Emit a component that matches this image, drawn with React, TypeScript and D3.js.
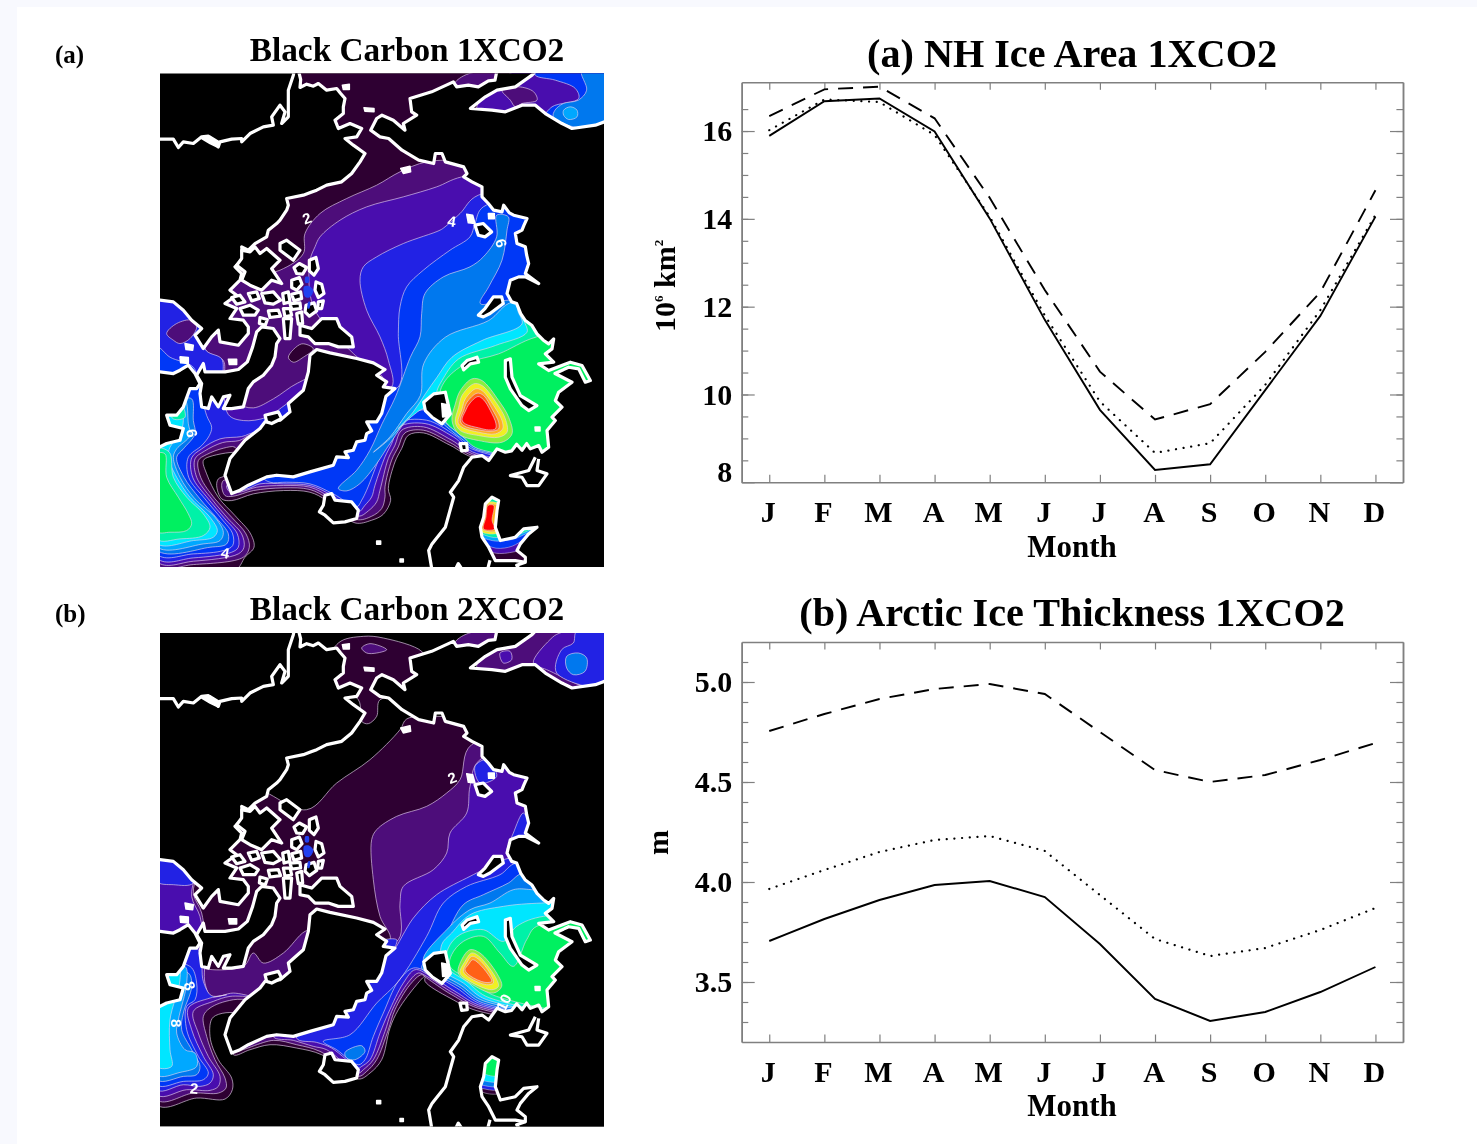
import React, { useEffect, useRef } from 'react';
import * as d3 from 'd3';

type Pt = [number, number];

const months = ['J', 'F', 'M', 'A', 'M', 'J', 'J', 'A', 'S', 'O', 'N', 'D'];

// (a) NH ice area, 10^6 km2
const areaSolid = [15.89, 16.68, 16.74, 15.99, 14.01, 11.7, 9.65, 8.28, 8.41, 10.1, 11.79, 14.05];
const areaDotted = [16.02, 16.72, 16.66, 15.91, 14.05, 11.8, 9.84, 8.67, 8.89, 10.22, 11.92, 14.09];
const areaDashed = [16.34, 16.95, 17.01, 16.29, 14.48, 12.38, 10.52, 9.43, 9.78, 10.97, 12.33, 14.65];

// (b) Arctic ice thickness, m
const thickSolid = [3.705, 3.815, 3.91, 3.985, 4.005, 3.925, 3.69, 3.415, 3.305, 3.35, 3.45, 3.575];
const thickDotted = [3.965, 4.06, 4.15, 4.21, 4.23, 4.155, 3.935, 3.715, 3.63, 3.67, 3.76, 3.87];
const thickDashed = [4.755, 4.84, 4.915, 4.965, 4.99, 4.94, 4.75, 4.56, 4.5, 4.535, 4.61, 4.695];

const levelColors = ['#2e0033', '#4e0a7a', '#4a10ae', '#2222e4', '#0038f6', '#0078ee', '#00a8ff', '#00e6ff', '#00f2a8', '#00f060', '#88f040', '#f0f020', '#ffb020', '#ff6018', '#ff0000'];

// Map grid is in units of 1/3 px. Land and coast
const landNorthAmerica: Pt[] = [[445,30],[452,58],[450,82],[470,72],[490,78],[505,70],[530,90],[560,85],[572,100],[585,115],[580,140],[580,160],[555,180],[565,205],[600,190],[635,205],[620,230],[585,235],[610,255],[645,280],[630,305],[605,340],[575,365],[530,375],[500,390],[460,405],[410,415],[415,435],[410,450],[390,480],[380,490],[355,510],[350,530],[315,550],[295,570],[275,560],[280,595],[255,620],[275,640],[270,660],[255,675],[240,690],[260,705],[225,730],[260,745],[240,775],[280,780],[295,800],[295,820],[265,855],[210,845],[205,810],[185,830],[160,865],[135,825],[155,805],[125,780],[100,750],[70,725],[30,720],[20,720],[20,237],[30,237],[70,237],[85,262],[100,245],[130,250],[155,230],[175,228],[205,260],[210,245],[245,237],[275,235],[275,245],[300,220],[340,200],[370,195],[365,170],[390,135],[405,155],[395,190],[415,170],[415,120],[415,90],[430,45],[433,30]];
const landEurasia: Pt[] = [[1041,30],[1035,60],[1015,62],[985,80],[955,75],[920,80],[910,65],[845,95],[780,115],[785,155],[800,165],[760,190],[765,210],[730,180],[696,165],[680,175],[662,210],[690,230],[716,235],[756,270],[806,300],[851,310],[856,280],[876,280],[886,305],[941,320],[951,340],[941,350],[966,365],[996,380],[996,410],[1015,430],[1031,450],[1056,455],[1061,435],[1078,458],[1091,465],[1131,475],[1122,495],[1116,510],[1096,520],[1101,550],[1126,560],[1130,585],[1136,610],[1126,640],[1166,670],[1126,650],[1106,650],[1081,660],[1071,700],[1085,725],[1100,730],[1112,760],[1126,781],[1145,795],[1161,821],[1180,840],[1196,851],[1211,836],[1206,866],[1186,881],[1211,906],[1166,911],[1196,931],[1261,906],[1296,916],[1321,961],[1306,966],[1286,926],[1256,921],[1215,940],[1266,966],[1226,996],[1216,1021],[1236,1041],[1206,1071],[1216,1081],[1191,1111],[1196,1161],[1176,1176],[1166,1156],[1141,1166],[1130,1150],[1116,1170],[1100,1152],[1085,1172],[1066,1176],[1041,1166],[1016,1201],[996,1186],[966,1191],[941,1221],[926,1261],[901,1296],[911,1311],[886,1401],[846,1451],[836,1471],[846,1530],[1400,1530],[1400,180],[1376,180],[1336,195],[1266,205],[1236,190],[1186,160],[1156,135],[1116,135],[1066,155],[1026,150],[961,145],[1006,110],[1041,90],[1096,80],[1146,45],[1160,30]];
const landGreenland: Pt[] = [[500,868],[540,878],[620,895],[670,908],[705,928],[680,945],[710,965],[700,980],[735,985],[708,1008],[695,1060],[680,1085],[650,1085],[665,1112],[650,1120],[645,1140],[620,1145],[610,1170],[585,1175],[595,1192],[560,1190],[550,1215],[480,1235],[430,1250],[380,1245],[350,1250],[295,1275],[270,1290],[245,1300],[225,1245],[240,1195],[285,1140],[330,1105],[345,1085],[390,1080],[420,1055],[415,1030],[460,990],[475,935],[480,885]];
const landBaffin: Pt[] = [[160,910],[165,935],[225,935],[265,928],[292,905],[308,860],[320,815],[335,800],[370,805],[390,835],[380,850],[375,890],[365,915],[340,945],[310,965],[295,985],[280,1040],[245,1045],[220,1045],[240,1005],[220,1010],[205,1040],[185,1010],[175,1045],[155,1040],[150,1000],[155,970],[140,945]];
const landEllesmere: Pt[] = [[450,795],[485,805],[515,775],[560,775],[570,800],[605,830],[610,860],[565,860],[535,850],[495,850],[475,830],[450,825]];
const landLabrador: Pt[] = [[30,935],[70,940],[90,930],[115,915],[135,940],[150,970],[140,985],[120,985],[100,1040],[80,1065],[50,1065],[60,1095],[100,1105],[90,1140],[50,1150],[30,1160],[20,1162],[20,935]];
const landIceland: Pt[] = [[525,1305],[545,1300],[555,1320],[605,1325],[625,1350],[620,1375],[585,1385],[550,1388],[525,1365],[508,1355],[520,1335]];
const landSvalbard: Pt[] = [[821,1026],[851,1001],[886,996],[896,1041],[901,1061],[876,1091],[846,1071],[826,1051]];
const landCrescent: Pt[] = [[1066,901],[1081,896],[1086,951],[1111,1006],[1161,1036],[1136,1051],[1116,1036],[1081,986],[1066,951]];
const landNovaya: Pt[] = [[985,765],[1005,745],[1030,710],[1055,710],[1060,730],[1040,745],[1020,760],[1000,770]];
const landSmallIslands: Pt[][] = [
  [[275,570],[300,575],[315,560],[330,580],[350,565],[390,600],[365,625],[395,670],[365,660],[335,690],[300,675],[275,660],[285,635],[260,615],[275,595]],
  [[390,550],[410,540],[450,570],[430,600],[410,585],[390,570]],
  [[335,700],[370,695],[392,720],[370,732],[345,728]],
  [[270,745],[300,735],[325,750],[315,765],[280,765]],
  [[355,752],[385,750],[392,768],[360,772]],
  [[245,712],[270,705],[285,725],[260,732]],
  [[400,775],[425,775],[420,835],[405,835]],
  [[295,700],[320,695],[328,715],[305,722]],
  [[398,700],[415,695],[420,725],[402,730]],
  [[400,745],[420,745],[425,765],[405,770]],
  [[330,772],[352,778],[346,795],[328,790]],
  [[432,622],[448,610],[470,622],[458,642],[440,640]],
  [[478,600],[498,592],[505,625],[492,645],[478,632]],
  [[425,660],[448,652],[456,672],[440,690],[425,682]],
  [[425,702],[452,695],[455,715],[432,722]],
  [[498,665],[515,672],[522,700],[505,712],[495,690]],
  [[420,730],[450,728],[452,745],[425,748]],
  [[468,735],[492,728],[500,752],[478,768],[465,755]],
  [[505,725],[520,722],[515,745],[503,745]],
  [[440,760],[455,755],[458,790],[445,792]],
  [[975,495],[1000,490],[1025,515],[1005,530],[985,525]],
  [[951,901],[981,891],[986,906],[961,911],[941,929],[936,916]],
  [[345,1065],[385,1055],[395,1075],[365,1090],[350,1085]],
  [[930,1150],[950,1150],[952,1170],[935,1172]],
];
const whiteBlobs: Pt[][] = [
  [[155,235],[180,228],[208,245],[205,262],[180,250]],
  [[642,143],[672,145],[672,155],[645,153]],
  [[577,75],[598,72],[598,88],[580,88]],
  [[752,325],[780,318],[782,335],[760,340]],
  [[950,462],[968,465],[975,490],[955,488]],
  [[1015,460],[1033,460],[1033,476],[1016,476]],
  [[105,850],[130,855],[128,870],[108,868]],
  [[90,890],[115,892],[115,910],[92,908]],
  [[235,897],[260,897],[260,913],[238,913]],
  [[875,1030],[898,1035],[898,1068],[878,1070]],
  [[1155,1100],[1170,1100],[1170,1112],[1156,1112]],
  [[680,1442],[692,1442],[692,1452],[680,1452]],
  [[750,1496],[760,1496],[760,1505],[750,1505]],
];
const archipelagoSea: Pt[][] = [
  [[462,680],[478,678],[490,692],[478,712],[465,710]],
  [[466,650],[476,650],[476,668],[466,668]],
  [[475,725],[480,725],[478,745],[473,745]],
];
const coastLoopBlack: Pt[] = [[1166,1196],[1161,1231],[1191,1241],[1166,1276],[1131,1276],[1116,1251],[1081,1246],[1136,1231],[1156,1191]];
const coastBottomA: Pt[] = [[1020,1500],[1012,1530]];
const coastBottomB: Pt[] = [[1126,1506],[1100,1515],[1110,1530]];
const coastBottomC: Pt[] = [[915,1530],[925,1510],[938,1530]];
const smallSea: Pt[] = [[1006,1331],[1026,1311],[1046,1321],[1041,1351],[1036,1401],[1051,1441],[1096,1431],[1121,1406],[1161,1401],[1136,1421],[1111,1451],[1101,1471],[1126,1491],[1126,1506],[1096,1501],[1066,1501],[1036,1501],[1016,1461],[996,1431],[991,1401],[1001,1371]];

const landMasses: Pt[][] = [landNorthAmerica, landEurasia, landGreenland, landBaffin, landEllesmere, landLabrador, landIceland, landSvalbard, landCrescent, landNovaya, ...landSmallIslands];

// Contour regions, black carbon 1XCO2: [level index, outline]
const bc1Arctic: [number, Pt[]][] = [
  [0, [[20,700],[200,500],[430,130],[437,60],[440,20],[1400,20],[1400,1200],[980,1195],[900,1155],[820,1118],[775,1125],[755,1165],[735,1205],[715,1285],[722,1320],[700,1362],[665,1380],[615,1388],[530,1321],[480,1296],[400,1291],[310,1301],[245,1321],[215,1316],[200,1276],[205,1256],[225,1246],[260,1200],[265,1179],[180,1189],[160,1201],[170,1241],[205,1311],[255,1366],[302,1421],[312,1461],[285,1491],[255,1530],[20,1530]]],
  [1, [[20,700],[240,690],[260,660],[390,630],[460,580],[465,520],[510,460],[590,415],[680,375],[750,335],[830,305],[960,300],[1400,300],[1400,1190],[980,1190],[900,1147],[820,1110],[765,1118],[745,1160],[725,1200],[705,1280],[705,1310],[695,1345],[665,1368],[620,1378],[535,1316],[480,1288],[400,1283],[310,1291],[250,1308],[225,1306],[215,1276],[220,1261],[250,1251],[265,1190],[255,1161],[220,1164],[170,1183],[145,1201],[152,1251],[195,1316],[245,1371],[288,1421],[298,1461],[280,1491],[130,1513],[20,1513]]],
  [0, [[415,891],[455,851],[490,866],[460,891],[430,906]]],
  [2, [[480,600],[495,560],[510,530],[570,480],[650,440],[760,410],[860,380],[935,350],[1400,300],[1400,1185],[980,1185],[905,1140],[820,1100],[755,1110],[735,1155],[715,1195],[690,1290],[680,1325],[655,1352],[625,1368],[540,1311],[480,1281],[400,1276],[320,1281],[270,1296],[240,1296],[230,1276],[300,1260],[620,1000],[700,960],[610,880],[500,760],[480,700]]],
  [2, [[20,681],[200,681],[165,866],[220,901],[225,951],[245,1021],[260,1031],[310,1043],[370,1016],[442,969],[500,951],[510,1111],[300,1125],[268,1141],[218,1147],[163,1173],[135,1196],[140,1251],[185,1316],[235,1376],[275,1421],[282,1461],[265,1481],[130,1503],[20,1503]]],
  [3, [[630,660],[640,620],[680,590],[760,550],[870,510],[885,500],[930,460],[985,405],[1400,400],[1400,1180],[980,1180],[910,1130],[825,1090],[748,1100],[725,1150],[705,1190],[675,1275],[665,1310],[645,1335],[625,1355],[545,1305],[480,1276],[400,1271],[330,1271],[295,1285],[265,1290],[300,1240],[620,1000],[725,980],[715,900],[690,830],[650,750]]],
  [3, [[20,681],[200,681],[165,866],[215,896],[220,946],[235,1063],[280,1081],[350,1071],[410,1031],[500,971],[510,1121],[320,1115],[275,1129],[210,1136],[155,1166],[125,1193],[128,1251],[175,1316],[225,1376],[262,1421],[265,1461],[245,1476],[130,1493],[20,1493]]],
  [1, [[50,820],[80,790],[125,780],[140,800],[120,835],[90,850],[70,840]]],
  [4, [[750,740],[770,680],[820,630],[900,570],[960,530],[975,490],[1000,440],[1400,400],[1400,1175],[975,1170],[915,1125],[830,1080],[740,1090],[715,1145],[690,1190],[650,1290],[635,1320],[620,1340],[550,1301],[480,1271],[410,1266],[360,1266],[340,1250],[620,1000],[745,980],[745,820]]],
  [4, [[20,861],[60,891],[130,921],[145,971],[170,1066],[185,1101],[178,1126],[155,1156],[115,1191],[116,1251],[165,1316],[215,1376],[248,1421],[248,1456],[220,1471],[130,1481],[20,1481]]],
  [5, [[815,760],[825,700],[880,650],[960,620],[1000,590],[1040,530],[1040,465],[1075,470],[1071,510],[1056,600],[1016,680],[991,730],[1090,720],[1400,800],[1400,1170],[985,1170],[940,1140],[890,1100],[830,1050],[790,1060],[720,1150],[680,1210],[630,1270],[590,1292],[565,1285],[620,1230],[660,1170],[696,1091],[736,1011],[781,891],[810,830]]],
  [5, [[125,1016],[130,1081],[135,1121],[100,1166],[80,1191],[102,1251],[150,1316],[202,1376],[235,1421],[230,1451],[180,1461],[20,1469],[20,1141],[90,1021]]],
  [6, [[1090,725],[1016,781],[886,831],[821,911],[811,1006],[770,1060],[720,1130],[670,1176],[720,1135],[780,1070],[820,1040],[895,1095],[945,1135],[990,1165],[1400,1165],[1400,800]]],
  [6, [[105,1021],[115,1091],[120,1126],[80,1166],[70,1191],[90,1251],[135,1316],[195,1371],[220,1416],[210,1441],[160,1451],[20,1459],[20,1141]]],
  [7, [[1105,745],[1116,791],[996,841],[906,891],[861,951],[826,1001],[790,1055],[745,1105],[790,1065],[825,1045],[900,1090],[950,1130],[995,1160],[1400,1160],[1400,800]]],
  [7, [[90,1031],[100,1081],[90,1121],[60,1161],[55,1191],[80,1251],[120,1311],[180,1371],[202,1411],[190,1431],[130,1441],[20,1449],[20,1141]]],
  [8, [[1125,775],[1131,816],[1036,856],[926,896],[876,961],[860,1000],[880,1060],[905,1090],[955,1125],[1000,1155],[1400,1155],[1400,800]]],
  [8, [[20,1166],[58,1176],[70,1251],[110,1311],[160,1361],[180,1401],[160,1426],[90,1436],[20,1436]]],
  [8, [[55,1036],[90,1026],[105,1071],[70,1076]]],
  [9, [[1160,830],[1046,881],[946,911],[886,961],[871,1001],[896,1021],[886,1081],[936,1126],[986,1166],[1400,1160],[1400,800]]],
  [9, [[20,1181],[45,1181],[50,1251],[85,1311],[115,1361],[125,1391],[110,1411],[60,1416],[20,1413]]],
  [10, [[931,991],[966,956],[996,961],[1046,1021],[1076,1071],[1086,1121],[1056,1146],[986,1141],[926,1121],[906,1081],[916,1031]]],
  [11, [[936,1006],[971,971],[996,976],[1041,1031],[1066,1076],[1071,1116],[1046,1131],[986,1126],[931,1111],[916,1086],[926,1041]]],
  [12, [[946,1016],[976,986],[996,991],[1031,1036],[1056,1081],[1058,1106],[1036,1121],[986,1116],[936,1101],[924,1086],[936,1046]]],
  [13, [[951,1026],[981,999],[1001,1006],[1026,1046],[1046,1086],[1046,1106],[1026,1113],[986,1109],[941,1096],[931,1081],[941,1051]]],
  [14, [[958,1031],[984,1009],[1001,1019],[1021,1051],[1038,1091],[1036,1106],[1016,1109],[986,1103],[946,1091],[936,1079],[946,1053]]],
  // top right sea
  [2, [[980,150],[1040,70],[1130,20],[1400,20],[1400,230],[1100,230]]],
  [1, [[1056,90],[1106,80],[1151,95],[1161,120],[1116,130],[1096,140],[1081,120]]],
  [4, [[1156,45],[1216,60],[1276,85],[1286,115],[1206,140],[1186,170],[1256,210],[1396,200],[1396,20],[1156,20]]],
  [5, [[1210,170],[1215,150],[1240,130],[1285,120],[1310,90],[1295,30],[1400,30],[1400,200],[1270,200]]],
  [6, [[1241,150],[1261,140],[1281,150],[1281,170],[1256,178],[1241,165]]],
  [1, [[915,70],[945,45],[1045,30],[1030,60],[960,80]]],
];
const bc1SmallSea: [number, Pt[]][] = [
  [0, [[980,1300],[1180,1300],[1180,1520],[980,1520]]],
  [2, [[976,1301],[1176,1381],[1126,1461],[1086,1476],[1026,1476],[976,1431]]],
  [4, [[976,1301],[1176,1381],[1116,1441],[1076,1461],[1026,1461],[981,1421]]],
  [6, [[976,1301],[1176,1381],[1106,1431],[1066,1441],[1026,1441],[986,1421]]],
  [8, [[976,1301],[1176,1381],[1096,1426],[1051,1431],[1026,1431],[986,1411]]],
  [11, [[996,1331],[1046,1331],[1041,1381],[1046,1416],[1016,1421],[991,1411],[996,1371]]],
  [12, [[1003,1336],[1044,1336],[1038,1381],[1042,1411],[1014,1414],[996,1406],[1003,1371]]],
  [14, [[1014,1336],[1031,1336],[1026,1381],[1034,1406],[1001,1406],[1008,1371]]],
];

// Contour regions, black carbon 2XCO2
const bc2Arctic: [number, Pt[]][] = [
  [0, [[20,500],[300,500],[470,570],[560,490],[660,420],[750,330],[770,298],[860,290],[1000,300],[1400,300],[1400,1190],[1000,1178],[900,1135],[825,1085],[825,1070],[800,1095],[745,1170],[720,1225],[695,1320],[660,1360],[625,1378],[515,1305],[440,1285],[360,1275],[300,1290],[250,1305],[265,1185],[190,1192],[180,1250],[205,1320],[245,1375],[247,1410],[225,1438],[140,1435],[20,1455]]],
  [0, [[565,70],[640,50],[700,55],[815,95],[830,130],[800,230],[690,240],[680,290],[655,312],[635,305],[625,240],[520,180]]],
  [1, [[635,85],[660,72],[710,90],[680,100],[650,100]]],
  [1, [[915,70],[945,45],[1045,30],[1030,60],[960,80]]],
  [1, [[665,660],[680,630],[740,590],[830,560],[890,520],[930,480],[965,375],[1400,370],[1400,1186],[1000,1170],[905,1125],[830,1075],[815,1065],[780,1095],[735,1170],[715,1230],[680,1320],[650,1355],[625,1370],[510,1295],[440,1275],[370,1262],[260,1292],[300,1240],[600,1000],[720,960],[690,890],[670,780]]],
  [1, [[280,1040],[310,1000],[340,1030],[400,1000],[465,935],[500,930],[500,1140],[250,1140],[180,1165],[160,1190],[170,1250],[195,1320],[225,1375],[228,1405],[205,1420],[130,1420],[20,1440],[20,700],[150,700],[130,820],[155,880],[165,1000],[150,1040]]],
  [2, [[750,850],[760,800],[850,750],[890,700],[900,640],[950,580],[960,500],[990,420],[1400,370],[1400,1180],[1000,1165],[910,1120],[830,1070],[805,1060],[770,1095],[725,1175],[705,1235],[670,1320],[640,1350],[625,1360],[530,1290],[490,1280],[430,1262],[370,1250],[600,1000],[745,960]]],
  [2, [[20,700],[140,700],[125,830],[150,890],[165,1000],[165,1090],[185,1130],[250,1120],[300,1130],[240,1130],[190,1145],[130,1175],[145,1240],[175,1310],[210,1370],[205,1400],[180,1412],[110,1410],[20,1425]]],
  [3, [[735,985],[790,895],[860,825],[960,770],[1000,750],[1060,720],[1400,700],[1400,1175],[1000,1160],[915,1115],[835,1065],[795,1050],[760,1090],[715,1180],[690,1240],[660,1320],[635,1340],[625,1345],[545,1285],[500,1268],[440,1255],[600,1000],[740,960]]],
  [3, [[1090,640],[1120,580],[1140,640],[1070,700]]],
  [3, [[975,440],[1010,420],[1040,470],[990,490]]],
  [3, [[20,700],[130,700],[130,790],[70,795],[20,785]]],
  [3, [[110,960],[150,1000],[160,1085],[185,1128],[230,1125],[180,1135],[115,1165],[125,1230],[160,1310],[190,1365],[180,1390],[150,1400],[100,1395],[20,1410],[20,1000]]],
  [4, [[745,1085],[830,950],[880,850],[950,800],[1050,765],[1100,730],[1400,800],[1400,1170],[1000,1155],[920,1105],[840,1060],[790,1045],[745,1085],[700,1180],[670,1250],[645,1320],[625,1335],[560,1290],[520,1265],[600,1245],[680,1150]]],
  [4, [[120,1040],[140,1090],[135,1140],[110,1160],[110,1230],[145,1310],[175,1360],[160,1380],[100,1385],[20,1395],[20,1040]]],
  [5, [[815,1045],[880,960],[940,855],[1000,825],[1075,790],[1120,760],[1400,800],[1400,1165],[1000,1150],[925,1100],[845,1060]]],
  [5, [[585,1298],[635,1278],[645,1295],[615,1320],[590,1315]]],
  [5, [[115,1060],[125,1100],[100,1180],[95,1230],[125,1290],[150,1340],[140,1365],[100,1370],[20,1380],[20,1060]]],
  [6, [[820,1020],[890,930],[960,870],[1020,850],[1090,810],[1145,810],[1400,850],[1400,1160],[1005,1145],[930,1095],[850,1050]]],
  [6, [[105,1040],[110,1090],[85,1200],[80,1240],[105,1290],[135,1300],[140,1340],[90,1358],[20,1365],[20,1040]]],
  [7, [[875,975],[905,940],[960,885],[1060,860],[1175,850],[1400,850],[1400,1160],[1010,1140],[940,1090],[880,1050]]],
  [7, [[85,1030],[90,1080],[60,1200],[60,1290],[65,1340],[20,1340],[20,1040]]],
  [8, [[895,985],[930,945],[1000,930],[1060,965],[1100,920],[1180,890],[1400,900],[1400,1160],[1020,1135],[950,1085],[890,1040]]],
  [9, [[905,1005],[940,965],[1000,950],[1050,1000],[1090,1040],[1130,960],[1160,920],[1400,920],[1400,1160],[1040,1130],[960,1080],[900,1040]]],
  [10, [[935,1020],[960,990],[990,1000],[1040,1060],[1055,1100],[1030,1120],[960,1090],[925,1060]]],
  [11, [[945,1025],[965,1000],[985,1008],[1035,1070],[1045,1100],[1025,1110],[960,1085],[930,1060]]],
  [12, [[950,1030],[965,1010],[985,1018],[1020,1060],[1030,1090],[1010,1095],[960,1075],[940,1055]]],
  [13, [[955,1035],[968,1020],[985,1030],[1015,1065],[1025,1085],[1005,1088],[960,1068],[945,1050]]],
  // top right sea
  [1, [[980,140],[1060,70],[1140,30],[1400,30],[1400,220],[1100,220]]],
  [2, [[1150,130],[1200,60],[1230,40],[1400,30],[1400,220],[1190,150]]],
  [2, [[1050,100],[1080,95],[1085,120],[1060,130]]],
  [3, [[1220,160],[1235,90],[1270,70],[1280,35],[1400,30],[1400,200]]],
  [5, [[1250,110],[1285,100],[1310,115],[1305,155],[1270,165],[1250,145]]],
];
const bc2SmallSea: [number, Pt[]][] = [
  [0, [[980,1300],[1060,1300],[1060,1415],[1005,1420],[980,1400]]],
  [3, [[980,1300],[1060,1300],[1060,1405],[1005,1408],[980,1395]]],
  [5, [[980,1300],[1060,1300],[1060,1395],[1005,1398],[980,1385]]],
  [7, [[980,1300],[1060,1300],[1060,1382],[1005,1384],[980,1372]]],
  [9, [[995,1300],[1060,1300],[1060,1365],[1010,1365],[995,1352]]],
];

type MapLabel = { text: string; at: Pt; rotate: number };
const bc1Labels: MapLabel[] = [
  { text: '2', at: [472, 478], rotate: -20 },
  { text: '4', at: [905, 487], rotate: 10 },
  { text: '6', at: [1050, 550], rotate: 75 },
  { text: '6', at: [122, 1120], rotate: 80 },
  { text: '4', at: [225, 1482], rotate: 10 },
];
const bc2Labels: MapLabel[] = [
  { text: '2', at: [908, 478], rotate: -20 },
  { text: '8', at: [75, 1210], rotate: 90 },
  { text: '8', at: [115, 1100], rotate: 70 },
  { text: '10', at: [1065, 1150], rotate: -65 },
  { text: '2', at: [132, 1410], rotate: 5 },
];

const MapPanel = ({ id, top, regions, sea, labels }: { id: string; top: number; regions: [number, Pt[]][]; sea: [number, Pt[]][]; labels: MapLabel[] }) => {
  const x = d3.scaleLinear().domain([30, 1362]).range([160, 604]);
  const y = d3.scaleLinear().domain([40, 1520]).range([top, top + 493.4]);
  const smooth = d3.line<Pt>().x(d => x(d[0])).y(d => y(d[1])).curve(d3.curveCatmullRomClosed.alpha(0.5));
  const closed = d3.line<Pt>().x(d => x(d[0])).y(d => y(d[1])).curve(d3.curveLinearClosed);
  const open = d3.line<Pt>().x(d => x(d[0])).y(d => y(d[1]));
  const contourLine = '#e6d4ee';
  const coastWidth = 3.2;
  return (
    <g>
      <defs>
        <clipPath id={`frame-${id}`}><rect x={160} y={top} width={444} height={493.4} /></clipPath>
        <clipPath id={`sea-${id}`}><path d={closed(smallSea) || ''} /></clipPath>
      </defs>
      <rect x={160} y={top} width={444} height={493.4} fill="#000" />
      <g clipPath={`url(#frame-${id})`}>
        {regions.map(([lev, pts], i) => (
          <path key={i} d={smooth(pts) || ''} fill={levelColors[lev]} stroke={contourLine} strokeWidth={0.8} strokeOpacity={0.8} />
        ))}
        {landMasses.map((pts, i) => (
          <path key={i} d={closed(pts) || ''} fill="#000" stroke="#fff" strokeWidth={coastWidth} strokeLinejoin="round" />
        ))}
        {whiteBlobs.map((pts, i) => (
          <path key={i} d={closed(pts) || ''} fill="#fff" stroke="#fff" strokeWidth={1.5} strokeLinejoin="round" />
        ))}
        {archipelagoSea.map((pts, i) => (
          <path key={i} d={smooth(pts) || ''} fill="#2040f0" />
        ))}
        <g clipPath={`url(#sea-${id})`}>
          {sea.map(([lev, pts], i) => (
            <path key={i} d={smooth(pts) || ''} fill={levelColors[lev]} stroke={contourLine} strokeWidth={0.6} strokeOpacity={0.8} />
          ))}
        </g>
        <path d={closed(smallSea) || ''} fill="none" stroke="#fff" strokeWidth={coastWidth} strokeLinejoin="round" />
        {[coastLoopBlack, coastBottomA, coastBottomB, coastBottomC].map((pts, i) => (
          <path key={i} d={open(pts) || ''} fill="none" stroke="#fff" strokeWidth={coastWidth} strokeLinejoin="round" />
        ))}
        {labels.map((l, i) => (
          <text key={i} x={x(l.at[0])} y={y(l.at[1])} transform={`rotate(${l.rotate} ${x(l.at[0])} ${y(l.at[1])})`} fill="#fff" fontFamily="Liberation Sans" fontWeight="bold" fontSize={15} textAnchor="middle" dominantBaseline="middle">{l.text}</text>
        ))}
      </g>
    </g>
  );
};

const LinePanel = ({ top, domain, majors, minors, series, fmt }: { top: number; domain: [number, number]; majors: number[]; minors: number[]; series: number[][]; fmt: (d: number) => string }) => {
  const ref = useRef<SVGGElement>(null);
  const x = d3.scaleLinear().domain([-0.5, 11.5]).range([741.7, 1403]);
  const y = d3.scaleLinear().domain(domain).range([top + 400, top]);
  const styles = [
    { dash: null, cap: 'butt' },
    { dash: '0.1,7.6', cap: 'round' },
    { dash: '15,10', cap: 'butt' },
  ];

  useEffect(() => {
    const g = d3.select(ref.current);
    g.selectAll('*').remove();
    const monthIdx = d3.range(12);
    const paint = (sel: any) => {
      sel.select('.domain').attr('stroke', '#808080').attr('stroke-width', 1.5);
      sel.selectAll('.tick line').attr('stroke', '#808080').attr('stroke-width', 1.2);
      sel.attr('font-family', 'Liberation Serif').attr('font-weight', 'bold').attr('font-size', 30);
      sel.selectAll('text').attr('fill', '#000');
    };
    const bottom = g.append('g').attr('transform', `translate(0,${top + 400})`)
      .call(d3.axisBottom(x).tickValues(monthIdx).tickSize(-7.5).tickSizeOuter(0).tickPadding(19.5).tickFormat((d: any) => months[d]))
      .call(paint);
    bottom.selectAll('text').attr('x', -1.5).attr('dy', '0.69em');
    g.append('g').attr('transform', `translate(0,${top})`)
      .call(d3.axisTop(x).tickValues(monthIdx).tickSize(-7.5).tickSizeOuter(0).tickFormat(() => ''))
      .call(paint);
    g.append('g').attr('transform', 'translate(741.7,0)')
      .call(d3.axisLeft(y).tickValues(minors).tickSize(-6.6).tickSizeOuter(0).tickFormat(() => ''))
      .call(paint);
    const left = g.append('g').attr('transform', 'translate(741.7,0)')
      .call(d3.axisLeft(y).tickValues(majors).tickSize(-13).tickSizeOuter(0).tickPadding(9.5).tickFormat(fmt as any))
      .call(paint);
    left.selectAll('text').attr('dy', '0.32em');
    // the lowest label sits above the frame corner in the original
    left.selectAll('text').filter((d: any) => d === 8).attr('y', -10);
    g.append('g').attr('transform', 'translate(1403,0)')
      .call(d3.axisRight(y).tickValues(minors).tickSize(-6.6).tickSizeOuter(0).tickFormat(() => ''))
      .call(paint);
    g.append('g').attr('transform', 'translate(1403,0)')
      .call(d3.axisRight(y).tickValues(majors).tickSize(-13).tickSizeOuter(0).tickFormat(() => ''))
      .call(paint);
    const line = d3.line<number>().x((_, i) => x(i)).y(d => y(d));
    series.forEach((s, i) => {
      g.append('path').attr('d', line(s) as string).attr('fill', 'none').attr('stroke', '#000')
        .attr('stroke-width', i === 1 ? 2.2 : 1.9)
        .attr('stroke-linecap', styles[i].cap)
        .attr('stroke-dasharray', styles[i].dash as any);
    });
  }, []);

  return <g ref={ref} />;
};

const serif = 'Liberation Serif';

export default function App() {
  return (
    <svg width={1477} height={1144} style={{ position: 'absolute', left: 0, top: 0, display: 'block' }} fontFamily={serif} fontWeight="bold">
      <defs>
        {/* the source figure is a soft upscaled scan */}
        <filter id="soft" filterUnits="userSpaceOnUse" x={0} y={0} width={1477} height={1144}>
          <feGaussianBlur stdDeviation={0.5} />
        </filter>
      </defs>
      <rect x={0} y={0} width={1477} height={1144} fill="#fff" />
      <rect x={0} y={0} width={1477} height={7} fill="#f8f9fe" />
      <rect x={0} y={0} width={17} height={1144} fill="#f8f9fe" />

      <g filter="url(#soft)">
        <text x={55} y={63} fontSize={25}>(a)</text>
        <text x={407} y={61} fontSize={33.3} textAnchor="middle">Black Carbon 1XCO2</text>
        <MapPanel id="a" top={73.5} regions={bc1Arctic} sea={bc1SmallSea} labels={bc1Labels} />

        <text x={55} y={622} fontSize={25}>(b)</text>
        <text x={407} y={620} fontSize={33.3} textAnchor="middle">Black Carbon 2XCO2</text>
        <MapPanel id="b" top={633} regions={bc2Arctic} sea={bc2SmallSea} labels={bc2Labels} />

        <text x={1072} y={67} fontSize={40.2} textAnchor="middle">(a) NH Ice Area 1XCO2</text>
        <LinePanel top={82.3} domain={[8, 17.11]} majors={[8, 10, 12, 14, 16]} minors={d3.range(8.5, 17, 0.5)} series={[areaSolid, areaDotted, areaDashed]} fmt={d => String(d)} />
        <text x={1072} y={557} fontSize={31} textAnchor="middle">Month</text>
        <text transform="translate(675,332) rotate(-90)" fontSize={30}>10<tspan fontSize={13} dy={-12}>6</tspan><tspan dy={12}> km</tspan><tspan fontSize={13} dy={-12}>2</tspan></text>

        <text x={1072} y={626} fontSize={40.2} textAnchor="middle">(b) Arctic Ice Thickness 1XCO2</text>
        <LinePanel top={642} domain={[3.2, 5.2]} majors={[3.5, 4, 4.5, 5]} minors={d3.range(3.3, 5.15, 0.1)} series={[thickSolid, thickDotted, thickDashed]} fmt={d => d3.format('.1f')(d)} />
        <text x={1072} y={1116} fontSize={31} textAnchor="middle">Month</text>
        <text transform="translate(668,855) rotate(-90)" fontSize={30}>m</text>
      </g>
    </svg>
  );
}
